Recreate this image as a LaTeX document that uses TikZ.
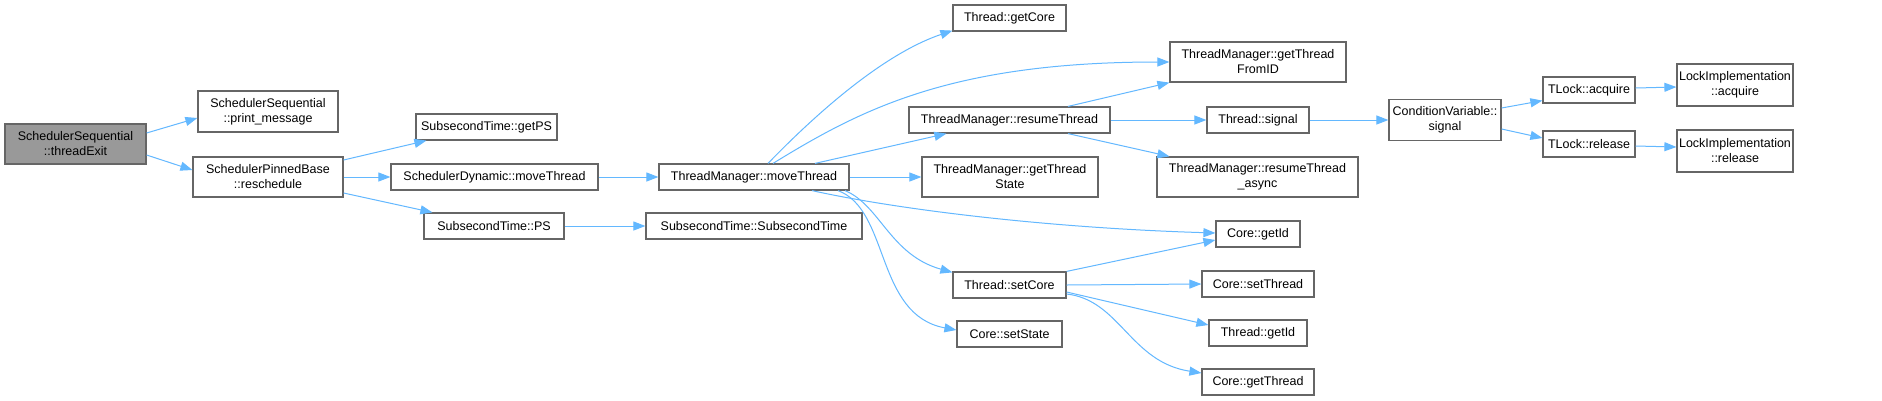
\documentclass[tikz,border=0pt]{standalone}
\usepackage{fontspec}
\setmainfont{Liberation Sans}
\usetikzlibrary{arrows.meta,calc}
\definecolor{edgec}{HTML}{63B8FF}
\definecolor{bord}{HTML}{666666}
\definecolor{rootfill}{HTML}{999999}
\begin{document}
\begin{tikzpicture}[x=1pt,y=-1pt,
 box/.style={draw=bord, line width=1.2pt, fill=white, inner sep=0pt, align=center,
   font=\fontsize{12.5}{15}\selectfont, minimum height=26pt},
 rootbox/.style={box, fill=rootfill},
 edge/.style={draw=edgec, line width=1pt, -{Triangle[length=12pt,width=9pt]}}]
\fill[white] (0,0) rectangle (1882,400);
\useasboundingbox (0,0) rectangle (1882,400);

% nodes
\node[rootbox, minimum width=141pt, minimum height=40pt] (root) at (75.5,144) {SchedulerSequential\\::threadExit};
\node[box, minimum width=140pt, minimum height=41pt] (pm) at (268,111.5) {SchedulerSequential\\::print\_message};
\node[box, minimum width=150pt, minimum height=40pt] (resch) at (268,177) {SchedulerPinnedBase\\::reschedule};
\node[box, minimum width=141pt] (getPS) at (486.5,127) {SubsecondTime::getPS};
\node[box, minimum width=207pt] (sdmove) at (494.5,177) {SchedulerDynamic::moveThread};
\node[box, minimum width=140pt] (ps) at (494,226) {SubsecondTime::PS};
\node[box, minimum width=190pt] (tmmove) at (754,177) {ThreadManager::moveThread};
\node[box, minimum width=216pt] (sst) at (754,226) {SubsecondTime::SubsecondTime};
\node[box, minimum width=113pt] (getCore) at (1009.5,18) {Thread::getCore};
\node[box, minimum width=176pt, minimum height=40pt] (gtfid) at (1258,62) {ThreadManager::getThread\\FromID};
\node[box, minimum width=201pt] (resume) at (1009.5,120) {ThreadManager::resumeThread};
\node[box, minimum width=176pt, minimum height=40pt] (gts) at (1010,177) {ThreadManager::getThread\\State};
\node[box, minimum width=113pt] (setCore) at (1009.5,285) {Thread::setCore};
\node[box, minimum width=105pt] (setState) at (1009.5,334) {Core::setState};
\node[box, minimum width=102pt] (signal) at (1258,120) {Thread::signal};
\node[box, minimum width=201pt, minimum height=40pt] (async) at (1257.5,177) {ThreadManager::resumeThread\\\_async};
\node[box, minimum width=84pt] (cgetid) at (1258,234) {Core::getId};
\node[box, minimum width=112pt] (setThread) at (1258,284) {Core::setThread};
\node[box, minimum width=98pt] (tgetid) at (1258,333) {Thread::getId};
\node[box, minimum width=112pt] (getThread) at (1258,382) {Core::getThread};
\node[box, minimum width=112pt, minimum height=41pt] (cv) at (1445,120) {ConditionVariable::\\signal};
\node[box, minimum width=92pt] (acq) at (1589,90) {TLock::acquire};
\node[box, minimum width=92pt] (rel) at (1589,144) {TLock::release};
\node[box, minimum width=116pt, minimum height=42pt] (lia) at (1735,85) {LockImplementation\\::acquire};
\node[box, minimum width=116pt, minimum height=42pt] (lir) at (1735,151) {LockImplementation\\::release};

% edges
\draw[edge] ($(root.east)+(0,-11)$) -- ($(pm.west)+(0,6.5)$);
\draw[edge] ($(root.east)+(0,11)$) -- ($(resch.west)+(0,-7)$);
\draw[edge] ($(resch.east)+(0,-17)$) -- ($(getPS.south west)+(11,0)$);
\draw[edge] (resch.east) -- (sdmove.west);
\draw[edge] ($(resch.east)+(0,16)$) -- ($(ps.north west)+(9,0)$);
\draw[edge] (sdmove.east) -- (tmmove.west);
\draw[edge] (ps.east) -- (sst.west);
\draw[edge] ($(tmmove.north)+(14,0)$) .. controls (810,120) and (880,55) .. ($(getCore.south west)+(0,-1)$);
\draw[edge] ($(tmmove.north)+(19,0)$) .. controls (860,110) and (950,62) .. (gtfid.west);
\draw[edge] ($(tmmove.north)+(61,0)$) -- ($(resume.south west)+(38,0)$);
\draw[edge] (tmmove.east) -- (gts.west);
\draw[edge] ($(tmmove.south)+(58,0)$) .. controls (900,210) and (1050,228) .. ($(cgetid.west)+(0,-1)$);
\draw[edge] ($(tmmove.south)+(91,0)$) .. controls (880,205) and (890,255) .. ($(setCore.north west)+(0,1)$);
\draw[edge] ($(tmmove.south)+(84,0)$) .. controls (890,210) and (875,315) .. ($(setState.west)+(0,-4)$);
\draw[edge] ($(resume.north)+(58.5,0)$) -- (gtfid.south west);
\draw[edge] (resume.east) -- (signal.west);
\draw[edge] ($(resume.south)+(58.5,0)$) -- ($(async.north west)+(13,0)$);
\draw[edge] (signal.east) -- (cv.west);
\draw[edge] ($(cv.east)+(0,-12)$) -- ($(acq.south west)+(0,-3)$);
\draw[edge] ($(cv.east)+(0,9)$) -- ($(rel.west)+(0,-6)$);
\draw[edge] ($(acq.east)+(0,-2)$) -- ($(lia.west)+(0,2)$);
\draw[edge] ($(rel.east)+(0,2)$) -- ($(lir.west)+(0,-4)$);
\draw[edge] (setCore.north east) -- ($(cgetid.west)+(0,6)$);
\draw[edge] (setCore.east) -- (setThread.west);
\draw[edge] ($(setCore.east)+(0,7)$) -- ($(tgetid.west)+(0,-8)$);
\draw[edge] ($(setCore.east)+(0,9)$) .. controls (1120,300) and (1130,362) .. ($(getThread.west)+(0,-9)$);
\end{tikzpicture}
\end{document}
